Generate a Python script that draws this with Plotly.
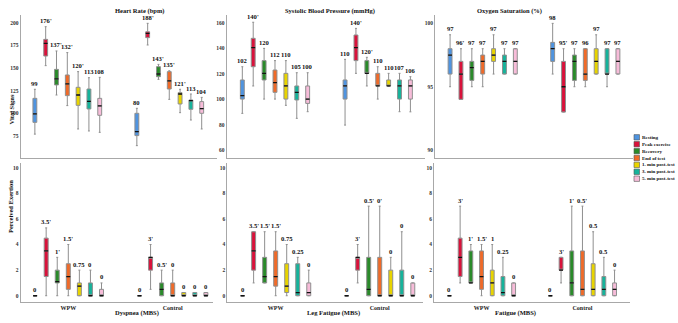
import plotly.graph_objects as go

# ---------------- data ----------------
series = ["Resting", "Peak exercise", "Recovery", "End of test",
          "1. min post-test", "3. min post-test", "5. min post-test"]
colors = ["#4f94e0", "#d9123b", "#2a8a2a", "#f06a28", "#e8d400", "#16b39b", "#f7bcd9"]
groups = ["WPW", "Control"]

# each list: 7 series, each pair = [WPW, Control]
# Heart Rate (bpm)
hr_lo  = [[77, 64.3], [152.6, 175.4], [120.2, 137.5], [108.5, 115.4], [82.7, 100.7], [80.5, 92.6], [79, 82.7]]
hr_q1  = [[90, 75.4], [163.2, 183.5], [131.3, 140.4], [119.5, 126.8], [108.8, 110.3], [104.8, 104.4], [97.8, 100]]
hr_med = [[99.3, 79.8], [177.2, 188.2], [137.9, 143.4], [132.4, 135.7], [120.2, 121.3], [113.2, 114], [108.1, 105.1]]
hr_q3  = [[116.5, 100], [181.6, 190], [148.5, 151.5], [142.3, 146], [128.7, 122.8], [126.8, 114.7], [116.5, 112.9]]
hr_hi  = [[126.5, 105.5], [195.6, 199.3], [168.8, 154], [167, 147], [146, 126.5], [139.3, 121.3], [139.7, 117.6]]
hr_lab = [["99", "80"], ["176'", "188'"], ["137'", "143'"], ["132'", "135'"], ["120'", "121'"], ["113", "113"], ["108", "104"]]

# Systolic Blood Pressure (mmHg)
bp_lo  = [[88.8, 79.6], [110.3, 120.2], [100, 110.3], [100, 100], [95.1, 110], [84.9, 90.1], [90.1, 90]]
bp_q1  = [[100, 100], [125.4, 130.2], [115, 120.2], [105.3, 110.3], [100, 110.3], [99.3, 100], [96.6, 100]]
bp_med = [[102.7, 110.3], [140.4, 140.4], [120.2, 120.2], [112.9, 110.3], [110.3, 110.3], [105.3, 110.3], [100, 110.3]]
bp_q3  = [[115, 115], [147.7, 150.3], [130.2, 130.2], [122.8, 120.2], [120.2, 115], [110.3, 115], [110.3, 115]]
bp_hi  = [[125.4, 131.2], [160.3, 155.5], [139.8, 132.8], [130.2, 125.4], [130.2, 120.2], [120.7, 120.2], [120.7, 117.6]]
bp_lab = [["102", "110"], ["140'", "140'"], ["120", "120'"], ["112", "110"], ["110", "110"], ["105", "107"], ["100", "106"]]

# Oxygen Saturation (%)
o2_lo  = [[95, 96], [94, 93], [95, 95], [95, 95], [96, 96], [96, 95], [96, 96]]
o2_q1  = [[96, 97], [94, 93], [95.5, 95.5], [96, 95.5], [97, 96], [96, 96], [96, 96]]
o2_med = [[97.5, 98], [96, 95], [96.5, 97], [97, 96], [97.5, 97], [97, 96], [97, 97]]
o2_q3  = [[98, 98.5], [97, 97], [97, 97.5], [97.5, 98], [98, 98], [97.5, 98], [98, 98]]
o2_hi  = [[99.1, 100], [98, 98], [98, 98], [98, 98], [99.1, 99.1], [98, 98], [98, 98]]
o2_lab = [["97", "98"], ["96'", "95'"], ["97", "97"], ["97", "96"], ["97", "97"], ["97", "97"], ["97", "97"]]

# Dyspnea (MBS)
dy_lo  = [[0, 0], [0, 0.5], [0, 0], [0, 0], [0, 0], [0, 0], [0, 0]]
dy_q1  = [[0, 0], [1.5, 2], [1, 0], [0.5, 0], [0, 0], [0, 0], [0, 0]]
dy_med = [[0, 0], [3.5, 3], [1.1, 0.5], [1.5, 0], [0.75, 0], [0, 0], [0, 0]]
dy_q3  = [[0, 0], [4.5, 3], [2, 1], [2.5, 1], [1, 0.25], [1, 0.25], [0.5, 0.25]]
dy_hi  = [[0, 0], [5.3, 4], [3, 2], [4, 2], [2, 0.25], [2, 0.25], [1, 0.25]]
dy_lab = [["0", "0"], ["3.5'", "3'"], ["1'", "0.5'"], ["1.5'", "0"], ["0.75", "0"], ["0", "0"], ["0", "0"]]

# Leg Fatigue (MBS)
lf_lo  = [[0, 0], [1, 1], [1, 0], [0, 0], [0, 0], [0, 0], [0, 0]]
lf_q1  = [[0, 0], [2, 2], [1, 0], [0.75, 0], [0.25, 0], [0, 0], [0, 0]]
lf_med = [[0, 0], [3.5, 3], [1.5, 0.5], [1.5, 0], [0.75, 0], [0.25, 0], [0.25, 0]]
lf_q3  = [[0, 0], [5, 3], [3, 3], [3.5, 3], [2.5, 2], [2.5, 2], [1, 1]]
lf_hi  = [[0, 0], [5, 4], [5, 7], [5, 7], [4, 3], [3, 5], [2, 1]]
lf_lab = [["0", "0"], ["3.5'", "3'"], ["1.5'", "0.5'"], ["1.5'", "0'"], ["0.75", "0"], ["0.25", "0"], ["0", "0"]]

# Fatigue (MBS)
fa_lo  = [[0, 0], [1, 1], [1, 0], [0, 0], [0, 0], [0, 0], [0, 0]]
fa_q1  = [[0, 0], [1.5, 2], [1, 0], [0.5, 0], [0, 0], [0, 0], [0, 0]]
fa_med = [[0, 0], [3, 2], [1, 1], [1.5, 0.5], [1, 0.5], [0.25, 0.5], [0, 0.5]]
fa_q3  = [[0, 0], [4.5, 3], [3.5, 3.5], [3.5, 3.5], [2, 2.5], [1.5, 1.5], [1, 1]]
fa_hi  = [[0, 0], [7, 3], [4, 7], [4, 7], [4, 5], [3, 3], [1, 2]]
fa_lab = [["0", "0"], ["3'", "3'"], ["1'", "1'"], ["1.5'", "0.5'"], ["1", "0.5"], ["0.25", "0.5"], ["0", "0"]]

titles_top = ["Heart Rate (bpm)", "Systolic Blood Pressure (mmHg)", "Oxygen Saturation (%)"]
titles_bottom = ["Dyspnea (MBS)", "Leg Fatigue (MBS)", "Fatigue (MBS)"]
hr_ticks = [75, 100, 125, 150, 175, 200]
bp_ticks = [60, 80, 100, 120, 140, 160]
o2_ticks = [90, 95, 100]
mbs_ticks = [0, 2, 4, 6, 8, 10]

# ---------------- layout helpers ----------------
W, H = 678, 323
def fx(px):
    return px / W
def fy(px):
    return 1 - px / H

FONT = "Liberation Serif"
AXC = "#a8a8a8"
def bold(size, color="#111"):
    return dict(family=FONT, size=size, color=color, weight="bold")

panels = [
    dict(d=(hr_lo, hr_q1, hr_med, hr_q3, hr_hi, hr_lab), xd=(20.7, 217), yd=(15, 157.7),
         xr=(-0.457, 1.468), yr=(51, 208.5), ticks=hr_ticks, bottom=False),
    dict(d=(bp_lo, bp_q1, bp_med, bp_q3, bp_hi, bp_lab), xd=(226.7, 425), yd=(15, 157.7),
         xr=(-0.47, 1.46), yr=(54, 166), ticks=bp_ticks, bottom=False),
    dict(d=(o2_lo, o2_q1, o2_med, o2_q3, o2_hi, o2_lab), xd=(435, 633), yd=(15, 157.7),
         xr=(-0.465, 1.465), yr=(89.4, 100.66), ticks=o2_ticks, bottom=False),
    dict(d=(dy_lo, dy_q1, dy_med, dy_q3, dy_hi, dy_lab), xd=(20.7, 213), yd=(163, 302),
         xr=(-0.456, 1.386), yr=(-0.49, 10.37), ticks=mbs_ticks, bottom=True),
    dict(d=(lf_lo, lf_q1, lf_med, lf_q3, lf_hi, lf_lab), xd=(227.3, 423), yd=(163, 302),
         xr=(-0.465, 1.416), yr=(-0.49, 10.37), ticks=mbs_ticks, bottom=True),
    dict(d=(fa_lo, fa_q1, fa_med, fa_q3, fa_hi, fa_lab), xd=(434, 630), yd=(163, 302),
         xr=(-0.471, 1.471), yr=(-0.49, 10.37), ticks=mbs_ticks, bottom=True),
]

SPACING = 0.106
BOXW = 0.038

fig = go.Figure()
annotations = []
layout = dict(width=W, height=H, margin=dict(l=0, r=0, t=0, b=0),
              paper_bgcolor="white", plot_bgcolor="white", showlegend=False,
              font=dict(family=FONT, color="#222"))

for p, pan in enumerate(panels):
    k = p + 1
    xa = "x" if k == 1 else f"x{k}"
    ya = "y" if k == 1 else f"y{k}"
    lo, q1, med, q3, hi, lab = pan["d"]
    for i, name in enumerate(series):
        xs = [g + (i - 3) * SPACING for g in range(len(groups))]
        fig.add_trace(go.Box(
            x=xs, lowerfence=lo[i], q1=q1[i], median=med[i], q3=q3[i], upperfence=hi[i],
            width=BOXW, fillcolor=colors[i], line=dict(color="#8f8f8f", width=1),
            boxpoints=False, name=name, xaxis=xa, yaxis=ya, hoverinfo="skip"))
        fig.add_trace(go.Box(
            x=xs, lowerfence=med[i], q1=med[i], median=med[i], q3=med[i], upperfence=med[i],
            width=BOXW, fillcolor="rgba(0,0,0,0)", line=dict(color="#111", width=1.3),
            boxpoints=False, name=name, xaxis=xa, yaxis=ya, hoverinfo="skip"))
        for g, xv in enumerate(xs):
            annotations.append(dict(x=xv, y=hi[i][g], xref=xa, yref=ya, text=lab[i][g],
                                    showarrow=False, yanchor="bottom", yshift=0.5,
                                    font=bold(6.6)))
    xkey = "xaxis" if k == 1 else f"xaxis{k}"
    ykey = "yaxis" if k == 1 else f"yaxis{k}"
    layout[xkey] = dict(domain=[fx(pan["xd"][0]), fx(pan["xd"][1])], range=list(pan["xr"]),
                        anchor=ya, showline=True, linecolor=AXC, linewidth=1, showgrid=False,
                        zeroline=False, ticks="", fixedrange=True,
                        showticklabels=pan["bottom"], tickvals=list(range(len(groups))),
                        ticktext=groups, tickfont=bold(6, "#222"))
    layout[ykey] = dict(domain=[fy(pan["yd"][1]), fy(pan["yd"][0])], range=list(pan["yr"]),
                        anchor=xa, showline=True, linecolor=AXC, linewidth=1, showgrid=False,
                        zeroline=False, ticks="", tickvals=pan["ticks"],
                        tickfont=bold(5.5, "#333"))

# panel titles
for t, xc, yc in zip(titles_top, [113, 330, 544], [4.5, 5, 5.5]):
    annotations.append(dict(x=fx(xc), y=fy(yc), xref="paper", yref="paper", text=t,
                            showarrow=False, font=bold(6.5)))
for t, xc in zip(titles_bottom, [113, 333, 538]):
    annotations.append(dict(x=fx(xc), y=fy(318.5), xref="paper", yref="paper", text=t,
                            showarrow=False, font=bold(6.5)))
for t, yc in [("Vital Signs", 93), ("Perceived Exertion", 235)]:
    annotations.append(dict(x=fx(5), y=fy(yc), xref="paper", yref="paper", text=t,
                            textangle=-90, showarrow=False, font=bold(6.5)))

# manual legend
shapes = []
for i, name in enumerate(series):
    yc = 137.3 + i * 6.9
    shapes.append(dict(type="rect", xref="paper", yref="paper", x0=fx(634), x1=fx(639.5),
                       y0=fy(yc + 2.7), y1=fy(yc - 2.7), fillcolor=colors[i],
                       line=dict(color="#555", width=0.6)))
    annotations.append(dict(x=fx(640.3), y=fy(yc), xref="paper", yref="paper", text=name,
                            xanchor="left", showarrow=False, font=bold(5)))

layout["annotations"] = annotations
layout["shapes"] = shapes
fig.update_layout(**layout)
fig.write_html("out.html")
